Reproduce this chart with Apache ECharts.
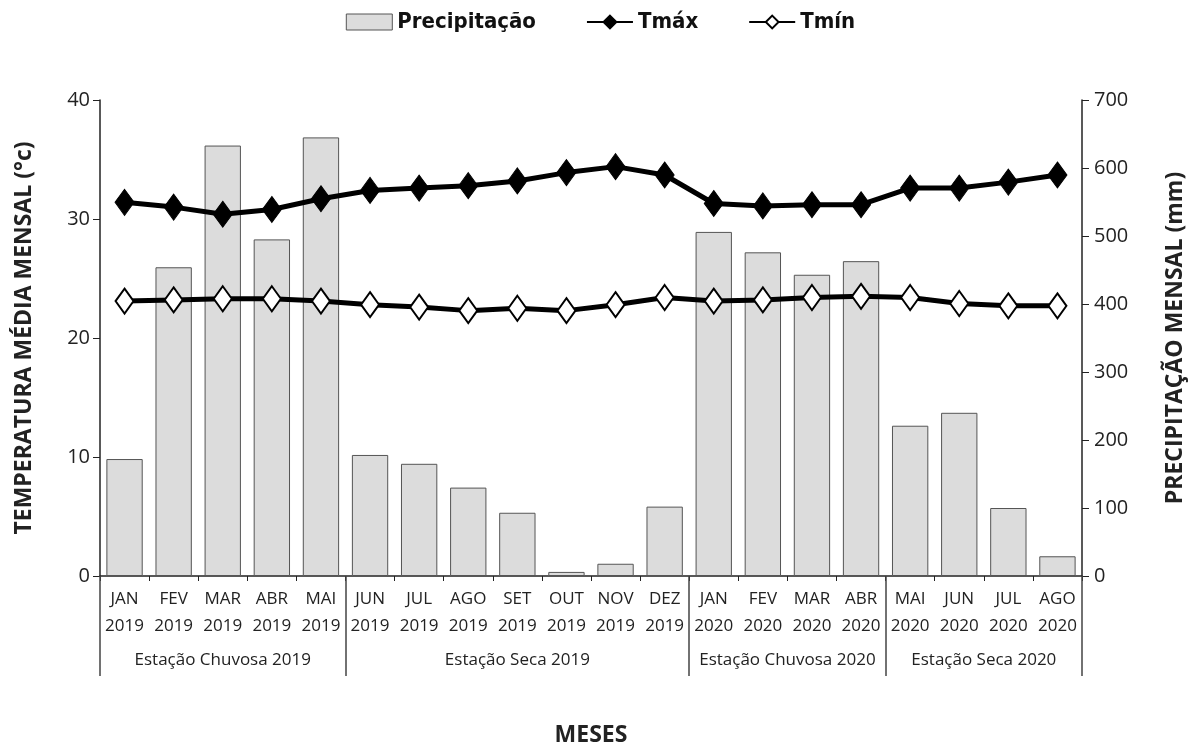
<!DOCTYPE html>
<html>
<head>
<meta charset="utf-8">
<script src="https://cdn.jsdelivr.net/npm/echarts@6/dist/echarts.min.js"></script>
<style>html,body{margin:0;padding:0;background:#fff;}#c{width:1201px;height:752px;}</style>
</head>
<body>
<div id="c"></div>
<script>
const months = ['JAN\n2019','FEV\n2019','MAR\n2019','ABR\n2019','MAI\n2019','JUN\n2019','JUL\n2019','AGO\n2019','SET\n2019','OUT\n2019','NOV\n2019','DEZ\n2019','JAN\n2020','FEV\n2020','MAR\n2020','ABR\n2020','MAI\n2020','JUN\n2020','JUL\n2020','AGO\n2020'];
const precipitacao = [172,454,633,495,645,178,165,130,93,6,18,102,506,476,443,463,221,240,100,29];
const tmax = [31.4,31.0,30.4,30.8,31.7,32.4,32.6,32.8,33.2,33.9,34.4,33.7,31.3,31.1,31.2,31.2,32.6,32.6,33.1,33.7];
const tmin = [23.1,23.2,23.3,23.3,23.1,22.8,22.6,22.3,22.5,22.3,22.8,23.4,23.1,23.2,23.4,23.5,23.4,22.9,22.7,22.7];
const groupNames = ['Estação Chuvosa 2019','Estação Seca 2019','Estação Chuvosa 2020','Estação Seca 2020'];
const groupBounds = [0,5,12,16,20];
const leftTicks = [0,10,20,30,40];
const rightTicks = [0,100,200,300,400,500,600,700];

const groupCenters = groupBounds.slice(0,-1).map((b,i)=> (b+groupBounds[i+1])/2);
const FONT = "'DejaVu Sans Condensed','Open Sans',sans-serif";
const FONT2 = "'Open Sans',sans-serif";
const chart = echarts.init(document.getElementById('c'));
chart.setOption({
  animation:false,
  legend:{
    top:6, left:'center', itemGap:50, itemWidth:46, itemHeight:16,
    textStyle:{fontFamily:FONT,fontSize:22,fontWeight:'bold',color:'#111'},
    data:[
      {name:'Precipitação',icon:'rect',itemStyle:{color:'#dcdcdc',borderColor:'#555',borderWidth:1}},
      {name:'Tmáx'},{name:'Tmín'}
    ]
  },
  grid:{left:100,right:119,top:100,bottom:171,containLabel:false},
  xAxis:[
    {type:'category',data:months,position:'bottom',
      axisLine:{lineStyle:{color:'#222',width:1.5}},
      axisTick:{show:true,length:5,lineStyle:{color:'#222'}},
      axisLabel:{fontFamily:FONT2,fontSize:17,color:'#222',lineHeight:27,margin:10,interval:0},
      name:'MESES',nameLocation:'middle',nameGap:148,
      nameTextStyle:{fontFamily:FONT2,fontSize:23,fontWeight:'bold',color:'#222'}
    },
    {type:'value',min:0,max:20,position:'bottom',gridIndex:0,
      axisLine:{show:false},splitLine:{show:false},
      axisTick:{show:true,customValues:groupBounds,length:100,inside:false,lineStyle:{color:'#444',width:1.5}},
      axisLabel:{customValues:groupCenters,margin:76,fontFamily:FONT2,fontSize:17,color:'#222',
        formatter:function(v){const i=groupCenters.indexOf(v);return i>=0?groupNames[i]:'';}}
    }
  ],
  yAxis:[
    {type:'value',min:0,max:40,interval:10,position:'left',
      axisLine:{show:true,lineStyle:{color:'#222',width:1.5}},
      axisTick:{show:true,length:7,lineStyle:{color:'#222'}},
      splitLine:{show:false},
      axisLabel:{fontFamily:FONT2,fontSize:20,color:'#222',margin:10},
      name:'TEMPERATURA MÉDIA MENSAL (°c)',nameLocation:'middle',nameGap:64,nameRotate:90,
      nameTextStyle:{fontFamily:FONT2,fontSize:23,fontWeight:'bold',color:'#222'}
    },
    {type:'value',min:0,max:700,interval:100,position:'right',
      axisLine:{show:true,lineStyle:{color:'#222',width:1.5}},
      axisTick:{show:true,length:7,lineStyle:{color:'#222'}},
      splitLine:{show:false},
      axisLabel:{fontFamily:FONT2,fontSize:20,color:'#222',margin:12},
      name:'PRECIPITAÇÃO MENSAL (mm)',nameLocation:'middle',nameGap:82,nameRotate:90,
      nameTextStyle:{fontFamily:FONT2,fontSize:23,fontWeight:'bold',color:'#222'}
    }
  ],
  series:[
    {name:'Precipitação',type:'bar',xAxisIndex:0,yAxisIndex:1,data:precipitacao,
      barCategoryGap:'26%',itemStyle:{color:'#dcdcdc',borderColor:'#555',borderWidth:1},z:1},
    {name:'Tmáx',type:'line',xAxisIndex:0,yAxisIndex:0,data:tmax,
      symbol:'diamond',symbolSize:[19,26],
      lineStyle:{color:'#000',width:5},itemStyle:{color:'#000',borderColor:'#000',borderWidth:1},z:3},
    {name:'Tmín',type:'line',xAxisIndex:0,yAxisIndex:0,data:tmin,
      symbol:'diamond',symbolSize:[18,25],
      lineStyle:{color:'#000',width:5},itemStyle:{color:'#fff',borderColor:'#000',borderWidth:2},z:3}
  ]
});
</script>
</body>
</html>
